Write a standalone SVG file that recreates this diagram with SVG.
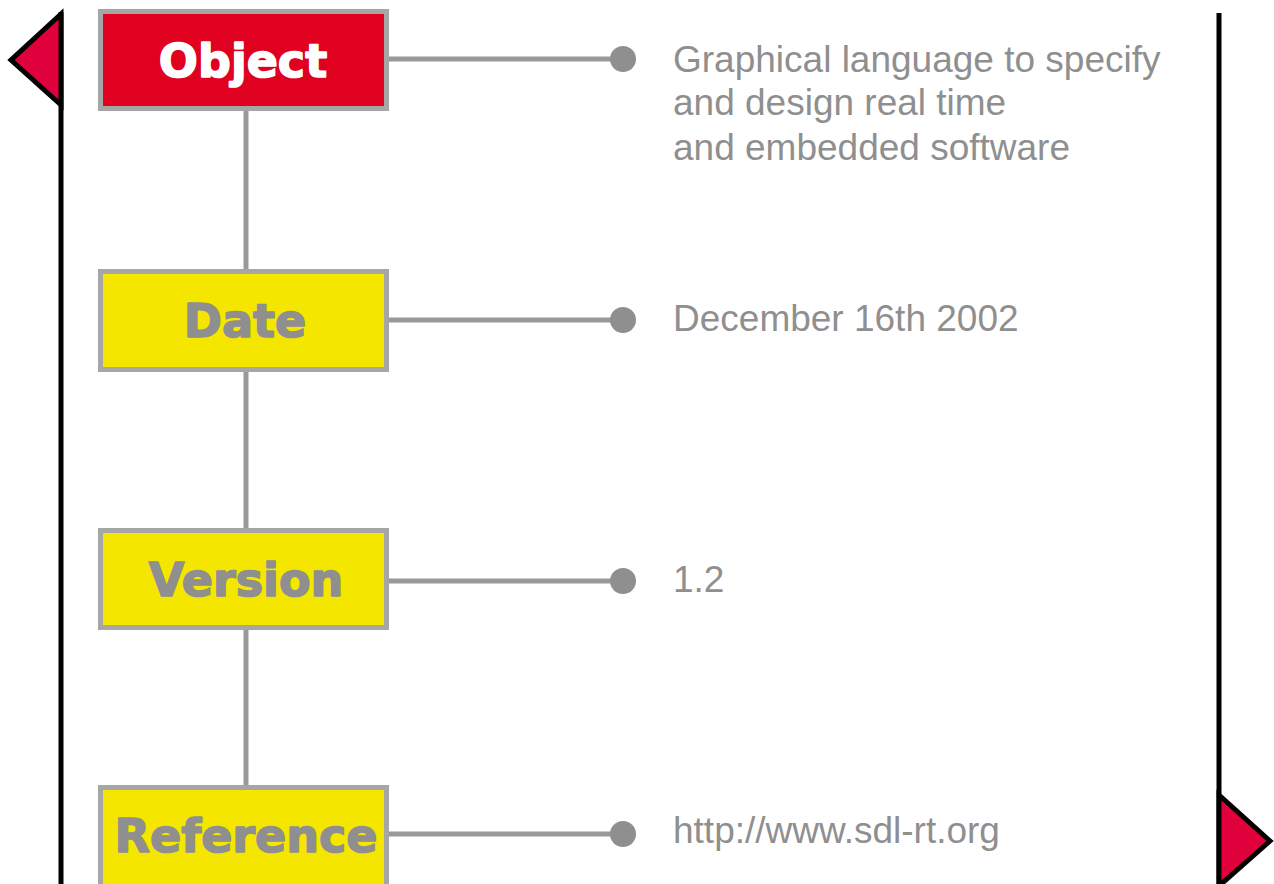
<svg xmlns="http://www.w3.org/2000/svg" width="1274" height="884" viewBox="0 0 1274 884">
<style>
.box{stroke:#a6a6a6;stroke-width:5}
.red{fill:#e00020}
.yel{fill:#f5e600}
.lbl{font-family:"DejaVu Sans",sans-serif;font-weight:bold;font-size:46px;text-anchor:middle;stroke-width:1.6;stroke-linejoin:round}
.w{fill:#ffffff;stroke:#ffffff}
.g{fill:#8f8f8f;stroke:#8f8f8f}
.conn{stroke:#999999;stroke-width:5;fill:none}
.dot{fill:#8f8f8f}
.desc{font-family:"Liberation Sans",Arial,sans-serif;font-size:37px;fill:#8f8f8f}
.flag{fill:#e0003c;stroke:#000;stroke-width:5;stroke-linejoin:miter}
.pole{stroke:#000;stroke-width:5}
</style>
<g id="left-pole">
<line class="pole" x1="61" y1="12" x2="61" y2="884"/>
<polygon class="flag" points="61,14 11,60 61,105"/>
</g>
<g id="right-pole">
<line class="pole" x1="1219" y1="13" x2="1219" y2="884"/>
<polygon class="flag" points="1219,795 1270,841 1219,886"/>
</g>
<g id="connectors">
<line class="conn" x1="246" y1="110" x2="246" y2="270"/>
<line class="conn" x1="246" y1="370" x2="246" y2="530"/>
<line class="conn" x1="246" y1="629" x2="246" y2="787"/>
<line class="conn" x1="388" y1="59" x2="623" y2="59"/>
<line class="conn" x1="388" y1="320" x2="623" y2="320"/>
<line class="conn" x1="388" y1="581" x2="623" y2="581"/>
<line class="conn" x1="388" y1="834" x2="623" y2="834"/>
<circle class="dot" cx="623" cy="59" r="13"/>
<circle class="dot" cx="623" cy="320" r="13"/>
<circle class="dot" cx="623" cy="581" r="13"/>
<circle class="dot" cx="623" cy="834" r="13"/>
</g>
<g id="object">
<rect class="box red" x="100.5" y="11.5" width="286" height="97"/>
<text class="lbl w" x="243" y="77">Object</text>
</g>
<g id="date">
<rect class="box yel" x="100.5" y="271.5" width="286" height="98"/>
<text class="lbl g" x="245" y="337">Date</text>
</g>
<g id="version">
<rect class="box yel" x="100.5" y="530.5" width="286" height="97"/>
<text class="lbl g" x="246" y="596">Version</text>
</g>
<g id="reference">
<rect class="box yel" x="100.5" y="787.5" width="286" height="110"/>
<text class="lbl g" x="246" y="852">Reference</text>
</g>
<g id="object-desc">
<text class="desc" x="673" y="72">Graphical language to specify</text>
<text class="desc" x="673" y="115">and design real time</text>
<text class="desc" x="673" y="160">and embedded software</text>
</g>
<g id="date-desc"><text class="desc" x="673" y="331">December 16th 2002</text></g>
<g id="version-desc"><text class="desc" x="673" y="592">1.2</text></g>
<g id="reference-desc"><text class="desc" x="673" y="843">http://www.sdl-rt.org</text></g>
</svg>
